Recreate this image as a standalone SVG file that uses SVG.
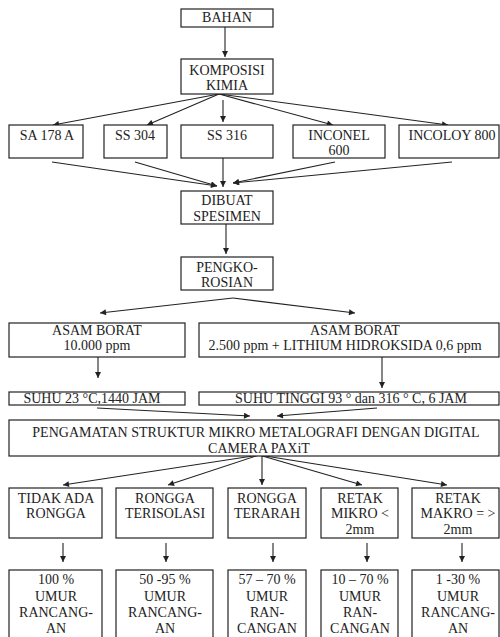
<svg xmlns="http://www.w3.org/2000/svg" width="500" height="637" viewBox="0 0 500 637">
<defs>
<style>
.n rect{fill:#fff;stroke:#222;stroke-width:1.2}
.t{font-family:'Liberation Serif',serif;font-size:14px;fill:#222;text-anchor:middle}
.c line{stroke:#222;stroke-width:1.1;marker-end:url(#ah)}
</style>
<marker id="ah" viewBox="0 0 10 10" refX="10" refY="5" markerWidth="7" markerHeight="6" markerUnits="userSpaceOnUse" orient="auto"><path d="M0,0L10,5L0,10z" fill="#222"/></marker>
</defs>
<rect x="0" y="0" width="500" height="637" fill="#fff"/>
<g class="c" id="connectors">
<line x1="225" y1="27" x2="225" y2="57"/>
<line x1="219" y1="94" x2="53" y2="125"/>
<line x1="219" y1="94" x2="147" y2="125"/>
<line x1="223" y1="100" x2="223" y2="122"/>
<line x1="219" y1="94" x2="333" y2="125"/>
<line x1="219" y1="94" x2="448" y2="125"/>
<line x1="52" y1="162" x2="217" y2="186"/>
<line x1="135" y1="162" x2="217" y2="186"/>
<line x1="223" y1="158" x2="223" y2="187"/>
<line x1="335" y1="162" x2="233" y2="183"/>
<line x1="452" y1="162" x2="233" y2="183"/>
<line x1="226" y1="224" x2="226" y2="254"/>
<line x1="233" y1="298" x2="100" y2="313"/>
<line x1="233" y1="298" x2="355" y2="313"/>
<line x1="98" y1="357" x2="98" y2="378"/>
<line x1="382" y1="357" x2="382" y2="388"/>
<line x1="97" y1="408" x2="250" y2="416"/>
<line x1="377" y1="408" x2="277" y2="416"/>
<line x1="259" y1="455" x2="63" y2="485"/>
<line x1="259" y1="455" x2="168" y2="485"/>
<line x1="262" y1="455" x2="262" y2="485"/>
<line x1="259" y1="455" x2="362" y2="485"/>
<line x1="259" y1="455" x2="447" y2="485"/>
<line x1="63" y1="543" x2="63" y2="562"/>
<line x1="166" y1="543" x2="166" y2="562"/>
<line x1="273" y1="543" x2="273" y2="562"/>
<line x1="367" y1="543" x2="367" y2="562"/>
<line x1="462" y1="543" x2="462" y2="562"/>
</g>
<g class="n">
<g id="bahan"><rect x="181" y="9" width="92" height="18"/><text class="t" font-family="Liberation Serif" x="227" y="22">BAHAN</text></g>
<g id="komposisi"><rect x="181" y="59" width="92" height="35"/><text class="t" font-family="Liberation Serif" x="227" y="75">KOMPOSISI</text><text class="t" font-family="Liberation Serif" x="227" y="90">KIMIA</text></g>
<g id="sa178a"><rect x="9" y="125" width="74" height="33"/><text class="t" font-family="Liberation Serif" x="47" y="140">SA 178 A</text></g>
<g id="ss304"><rect x="104" y="125" width="63" height="33"/><text class="t" font-family="Liberation Serif" x="135" y="140">SS 304</text></g>
<g id="ss316"><rect x="181" y="125" width="92" height="33"/><text class="t" font-family="Liberation Serif" x="227" y="140">SS 316</text></g>
<g id="inconel"><rect x="293" y="125" width="92" height="33"/><text class="t" font-family="Liberation Serif" x="339" y="140">INCONEL</text><text class="t" font-family="Liberation Serif" x="339" y="155">600</text></g>
<g id="incoloy"><rect x="399" y="125" width="100" height="33"/><text class="t" font-family="Liberation Serif" x="452" y="140">INCOLOY 800</text></g>
<g id="dibuat"><rect x="181" y="191" width="92" height="33"/><text class="t" font-family="Liberation Serif" x="227" y="205">DIBUAT</text><text class="t" font-family="Liberation Serif" x="227" y="221">SPESIMEN</text></g>
<g id="pengkorosian"><rect x="181" y="257" width="92" height="33"/><text class="t" font-family="Liberation Serif" x="227" y="272">PENGKO-</text><text class="t" font-family="Liberation Serif" x="227" y="287">ROSIAN</text></g>
<g id="asam1"><rect x="9" y="323" width="176" height="34"/><text class="t" font-family="Liberation Serif" x="97" y="335">ASAM BORAT</text><text class="t" font-family="Liberation Serif" x="97" y="350">10.000 ppm</text></g>
<g id="asam2"><rect x="199" y="323" width="300" height="34"/><text class="t" font-family="Liberation Serif" x="355" y="335">ASAM BORAT</text><text class="t" font-family="Liberation Serif" x="345" y="350">2.500 ppm + LITHIUM HIDROKSIDA 0,6 ppm</text></g>
<g id="suhu1"><rect x="9" y="392" width="176" height="13"/><text class="t" font-family="Liberation Serif" x="92" y="403">SUHU 23 &#176;C,1440 JAM</text></g>
<g id="suhu2"><rect x="199" y="392" width="300" height="13"/><text class="t" font-family="Liberation Serif" x="351" y="403">SUHU TINGGI 93 &#176; dan 316 &#176; C, 6 JAM</text></g>
<g id="pengamatan"><rect x="9" y="420" width="490" height="36"/><text class="t" font-family="Liberation Serif" x="256" y="437">PENGAMATAN STRUKTUR MIKRO METALOGRAFI DENGAN DIGITAL</text><text class="t" font-family="Liberation Serif" x="259" y="453">CAMERA PAXiT</text></g>
<g id="tidak"><rect x="9" y="488" width="93" height="50"/><text class="t" font-family="Liberation Serif" x="56" y="503">TIDAK ADA</text><text class="t" font-family="Liberation Serif" x="56" y="518">RONGGA</text></g>
<g id="terisolasi"><rect x="116" y="488" width="97" height="50"/><text class="t" font-family="Liberation Serif" x="165" y="503">RONGGA</text><text class="t" font-family="Liberation Serif" x="165" y="518">TERISOLASI</text></g>
<g id="terarah"><rect x="228" y="488" width="78" height="50"/><text class="t" font-family="Liberation Serif" x="267" y="503">RONGGA</text><text class="t" font-family="Liberation Serif" x="267" y="518">TERARAH</text></g>
<g id="mikro"><rect x="321" y="488" width="77" height="50"/><text class="t" font-family="Liberation Serif" x="360" y="503">RETAK</text><text class="t" font-family="Liberation Serif" x="360" y="518">MIKRO &lt;</text><text class="t" font-family="Liberation Serif" x="360" y="534">2mm</text></g>
<g id="makro"><rect x="412" y="488" width="87" height="50"/><text class="t" font-family="Liberation Serif" x="458" y="503">RETAK</text><text class="t" font-family="Liberation Serif" x="458" y="518">MAKRO = &gt;</text><text class="t" font-family="Liberation Serif" x="458" y="534">2mm</text></g>
<g id="u1"><rect x="9" y="570" width="93" height="70"/><text class="t" font-family="Liberation Serif" x="56" y="584">100 %</text><text class="t" font-family="Liberation Serif" x="56" y="601">UMUR</text><text class="t" font-family="Liberation Serif" x="56" y="617">RANCANG-</text><text class="t" font-family="Liberation Serif" x="56" y="633">AN</text></g>
<g id="u2"><rect x="116" y="570" width="97" height="70"/><text class="t" font-family="Liberation Serif" x="165" y="584">50 -95 %</text><text class="t" font-family="Liberation Serif" x="165" y="601">UMUR</text><text class="t" font-family="Liberation Serif" x="165" y="617">RANCANG-</text><text class="t" font-family="Liberation Serif" x="165" y="633">AN</text></g>
<g id="u3"><rect x="228" y="570" width="78" height="70"/><text class="t" font-family="Liberation Serif" x="267" y="584">57 &#8211; 70 %</text><text class="t" font-family="Liberation Serif" x="267" y="601">UMUR</text><text class="t" font-family="Liberation Serif" x="267" y="617">RAN-</text><text class="t" font-family="Liberation Serif" x="267" y="633">CANGAN</text></g>
<g id="u4"><rect x="321" y="570" width="77" height="70"/><text class="t" font-family="Liberation Serif" x="360" y="584">10 &#8211; 70 %</text><text class="t" font-family="Liberation Serif" x="360" y="601">UMUR</text><text class="t" font-family="Liberation Serif" x="360" y="617">RAN-</text><text class="t" font-family="Liberation Serif" x="360" y="633">CANGAN</text></g>
<g id="u5"><rect x="412" y="570" width="87" height="70"/><text class="t" font-family="Liberation Serif" x="458" y="584">1 -30 %</text><text class="t" font-family="Liberation Serif" x="458" y="601">UMUR</text><text class="t" font-family="Liberation Serif" x="458" y="617">RANCANG-</text><text class="t" font-family="Liberation Serif" x="458" y="633">AN</text></g>
</g>
</svg>
